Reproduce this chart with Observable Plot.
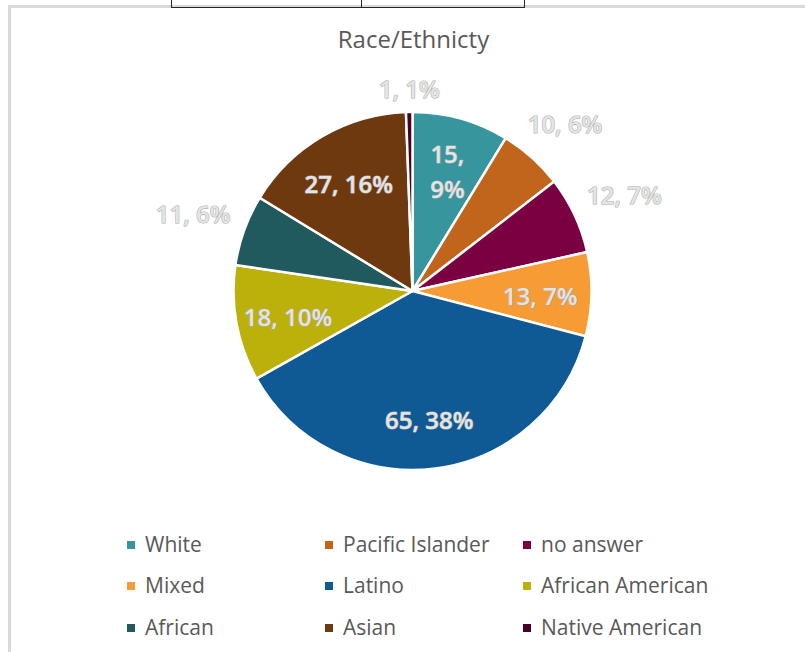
<!DOCTYPE html>
<html>
<head>
<meta charset="utf-8">
<script src="https://cdn.jsdelivr.net/npm/d3@7"></script>
<script src="https://cdn.jsdelivr.net/npm/@observablehq/plot@0.6"></script>
<style>
  body { margin: 0; background: #fff; font-family: "Open Sans", "Liberation Sans", sans-serif; }
  #wrap { position: relative; width: 805px; height: 652px; overflow: hidden; background: #fff; }
  #frame { position: absolute; left: 8px; top: 5px; width: 900px; height: 800px;
           border-left: 3px solid #d9d9d9; border-top: 3px solid #d9d9d9; }
  #tbl { position: absolute; left: 171px; top: -3px; width: 352px; height: 10px;
         border: 1.5px solid #262626; border-top: none; }
  #tbl .v { position: absolute; left: 189px; top: 0; height: 100%; border-left: 1.5px solid #262626; }
  #chart { position: absolute; left: 0; top: 0; }
  #title { position: absolute; left: 0; width: 827px; top: 27px; text-align: center;
           font-size: 24px; line-height: 24px; color: #595959; white-space: nowrap; }
  .lg { position: absolute; font-size: 21px; line-height: 21px; color: #595959; white-space: nowrap; }
  .lg .sw { position: absolute; left: 0; width: 8px; height: 8px; }
  .lg .tx { position: absolute; left: 18px; top: 0; }
</style>
</head>
<body>
<div id="wrap">
  <div id="frame"></div>
  <div id="tbl"><div class="v"></div></div>
  <div id="chart"></div>
  <div id="title">Race/Ethnicty</div>
</div>
<script>
// ---- data ----
const categories = ["White", "Pacific Islander", "no answer", "Mixed", "Latino",
                    "African American", "African", "Asian", "Native American"];
const counts   = [15, 10, 12, 13, 65, 18, 11, 27, 1];
const percents = [9, 6, 7, 7, 38, 10, 6, 16, 1];
const colors   = ["#37959d", "#c0651b", "#7a0041", "#f79b35", "#0f5a94",
                  "#bcb10b", "#215a5e", "#6f390f", "#4a0025"];

// ---- layout ----
const CX = 412.5, CY = 291, R = 179;
const W = 805, H = 520;
const outsideMax = 12; // small slices get their label outside the pie

const rows = categories.map((category, i) => ({category, value: counts[i], pct: percents[i]}));
const arcs = d3.pie().sort(null).value(d => d.value)(rows);

const FS = 24;
const labels = arcs.map((a, i) => {
  const d = a.data;
  const mid = (a.startAngle + a.endAngle) / 2;
  const s = Math.sin(mid), c = Math.cos(mid);
  const sep = i === 0 ? ",\n" : ", ";
  const text = `${d.value}${sep}${d.pct}%`;
  let k;
  if (d.value <= outsideMax) {
    const hw = text.length * 0.55 * FS / 2 / R, hh = (FS / 2) / R;
    k = 1.075 + hw * Math.abs(s) + hh * Math.abs(c);
  } else {
    k = 0.71;
  }
  return {category: d.category, text, x: k * s, y: k * c};
});

const pieMark = (index, scales) => {
  const cx = scales.x(0), cy = scales.y(0), r = scales.x(1) - cx;
  const arc = d3.arc().innerRadius(0).outerRadius(r);
  const g = d3.create("svg:g").attr("transform", `translate(${cx},${cy})`);
  g.selectAll("path").data(arcs).join("path")
    .attr("d", arc)
    .attr("fill", d => scales.color(d.data.category))
    .attr("stroke", "#fff")
    .attr("stroke-width", 2.5)
    .attr("stroke-linejoin", "round");
  return g.node();
};

const plot = Plot.plot({
  width: W, height: H,
  margin: 0,
  style: {background: "transparent", overflow: "visible"},
  x: {domain: [-1, 1], range: [CX - R, CX + R], axis: null},
  y: {domain: [-1, 1], range: [CY + R, CY - R], axis: null},
  color: {domain: categories, range: colors},
  marks: [
    Plot.dot(rows, {x: 0, y: 0, fill: "category", r: 0}),
    pieMark,
    Plot.text(labels, {
      x: "x", y: "y", text: "text",
      fontSize: FS, fontWeight: 600,
      fontFamily: "Open Sans, Liberation Sans, sans-serif",
      fill: "#e4e4e4", stroke: "#ababab", strokeWidth: 1.1,
      lineHeight: 1.45, textAnchor: "middle", lineAnchor: "middle"
    })
  ]
});
document.getElementById("chart").appendChild(plot);

// ---- legend (3 columns) ----
const colX = [127, 325, 523];
const rowBase = [552.5, 594, 635.5];
const colorScale = plot.scale("color");
const wrap = document.getElementById("wrap");
categories.forEach((cat, i) => {
  const col = i % 3, row = Math.floor(i / 3);
  const item = document.createElement("div");
  item.className = "lg";
  item.style.left = colX[col] + "px";
  item.style.top = (rowBase[row] - 18.6) + "px";
  const sw = document.createElement("div");
  sw.className = "sw";
  sw.style.background = colorScale.apply(cat);
  sw.style.top = "7px";
  const tx = document.createElement("div");
  tx.className = "tx";
  tx.textContent = cat;
  item.appendChild(sw);
  item.appendChild(tx);
  wrap.appendChild(item);
});
</script>
</body>
</html>
